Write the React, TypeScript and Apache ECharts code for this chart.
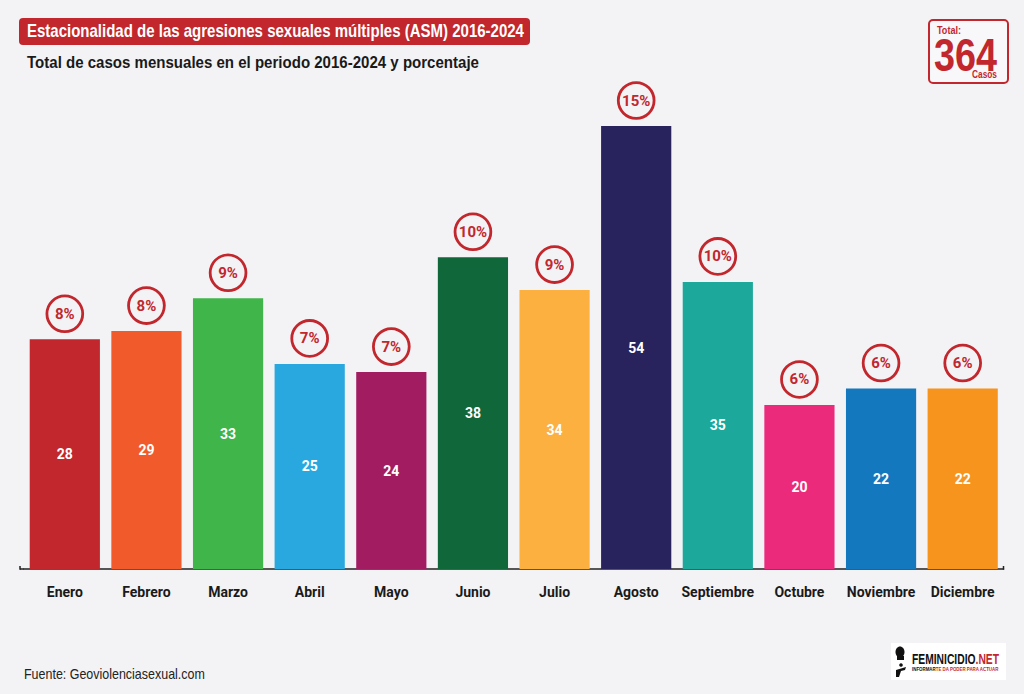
import React, { useEffect, useRef } from "react";
import * as echarts from "echarts";

const months = ["Enero", "Febrero", "Marzo", "Abril", "Mayo", "Junio", "Julio", "Agosto", "Septiembre", "Octubre", "Noviembre", "Diciembre"];
const cases = [28, 29, 33, 25, 24, 38, 34, 54, 35, 20, 22, 22];
const percents = ["8%", "8%", "9%", "7%", "7%", "10%", "9%", "15%", "10%", "6%", "6%", "6%"];
const barColors = ["#c1272d", "#f15a2b", "#3fb54a", "#29a8e0", "#a21c62", "#10683a", "#fbb040", "#28235c", "#1ca89a", "#eb2a7b", "#1478be", "#f7941d"];
const titleText = "Estacionalidad de las agresiones sexuales múltiples (ASM) 2016-2024";
const subtitleText = "Total de casos mensuales en el periodo 2016-2024 y porcentaje";
const totalValue = "364";
const sourceText = "Fuente: Geoviolenciasexual.com";

const SANS = "'Liberation Sans', Arial, sans-serif";
const ROBOTO = "Roboto, 'Liberation Sans', Arial, sans-serif";
const RED = "#c1272d";

function measure(text: string, font: string): number {
  const ctx = document.createElement("canvas").getContext("2d");
  if (!ctx) return text.length * 8;
  ctx.font = font;
  return ctx.measureText(text).width;
}

function fitText(x: number, y: number, text: string, font: string, width: number, fill: string, align = "left", extra: any = {}) {
  const w = measure(text, font);
  return {
    type: "text",
    x,
    y,
    scaleX: width / w,
    style: { text, fill, font, textAlign: align, textVerticalAlign: "middle", ...extra },
  };
}

export default function App() {
  const ref = useRef<HTMLDivElement>(null);
  useEffect(() => {
    if (!ref.current) return;
    const chart = echarts.init(ref.current, undefined, { renderer: "svg" });
    const logoFont = `bold 15px ${SANS}`;
    const logoScale = 87 / measure("FEMINICIDIO.NET", logoFont);
    const tagFont = `bold 6px ${SANS}`;
    const tagScale = 87 / measure("INFORMARTE DA PODER PARA ACTUAR", tagFont);
    chart.setOption({
      animation: false,
      backgroundColor: "#f3f3f5",
      textStyle: { fontFamily: ROBOTO },
      grid: { left: 24, right: 20.5, top: 76.8, bottom: 125, containLabel: false },
      xAxis: {
        type: "category",
        data: months,
        axisLine: { lineStyle: { color: "#222", width: 1.5 } },
        axisTick: { alignWithLabel: true, length: 6, lineStyle: { color: "#222", width: 1.5 } },
        axisLabel: { interval: 0, color: "#1a1a1a", fontWeight: "bold", fontSize: 14, margin: 16, fontFamily: ROBOTO },
      },
      yAxis: { type: "value", min: 0, max: 60, show: false, splitLine: { show: false } },
      series: [
        {
          type: "bar",
          data: cases.map((v, i) => ({ value: v, itemStyle: { color: barColors[i] } })),
          barCategoryGap: "14%",
          label: { show: true, position: "inside", color: "#fff", fontWeight: "bold", fontSize: 14, fontFamily: ROBOTO },
        },
        {
          type: "bar",
          data: cases,
          barGap: "-100%",
          barCategoryGap: "14%",
          itemStyle: { color: "rgba(0,0,0,0)" },
          silent: true,
          label: {
            show: true,
            position: "top",
            distance: 9,
            formatter: (p: any) => percents[p.dataIndex],
            color: RED,
            fontWeight: "bold",
            fontSize: 15,
            fontFamily: ROBOTO,
            width: 33,
            height: 33,
            lineHeight: 33,
            align: "center",
            borderColor: RED,
            borderWidth: 2.8,
            borderRadius: 19,
            backgroundColor: "#f3f3f5",
          },
        },
      ],
      graphic: [
        { type: "rect", shape: { x: 19, y: 18, width: 511, height: 27, r: 4 }, style: { fill: RED } },
        fitText(27, 31.5, titleText, `bold 18px ${SANS}`, 497, "#fff"),
        fitText(27, 62, subtitleText, `bold 17px ${SANS}`, 452, "#1a1a1a"),
        { type: "rect", shape: { x: 929, y: 20, width: 79, height: 63, r: 4 }, style: { fill: "#f8f8fa", stroke: RED, lineWidth: 2 } },
        fitText(937, 30, "Total:", `bold 11px ${SANS}`, 24, RED),
        fitText(965.5, 54, totalValue, `bold 47px ${SANS}`, 63, RED, "center"),
        fitText(997, 75, "Casos", `bold 10px ${SANS}`, 25, RED, "right"),
        { type: "line", shape: { x1: 20, y1: 569, x2: 24, y2: 569 }, style: { stroke: "#222", lineWidth: 1.5 } },
        { type: "line", shape: { x1: 20, y1: 569.7, x2: 20, y2: 566 }, style: { stroke: "#222", lineWidth: 1.5 } },
        { type: "line", shape: { x1: 1003.5, y1: 569.7, x2: 1003.5, y2: 566 }, style: { stroke: "#222", lineWidth: 1.5 } },
        fitText(24, 674, sourceText, `14px ${SANS}`, 181, "#222"),
        { type: "rect", shape: { x: 891, y: 643, width: 115, height: 37 }, style: { fill: "#fff" } },
        { type: "ellipse", shape: { cx: 900, cy: 652, rx: 4.5, ry: 5.5 }, style: { fill: "#111" } },
        { type: "rect", shape: { x: 897, y: 656, width: 7, height: 4 }, style: { fill: "#111" } },
        { type: "circle", shape: { cx: 901, cy: 665, r: 1.8 }, style: { fill: "#111" } },
        { type: "polygon", shape: { points: [[896, 670], [906, 667], [905, 670], [901, 671], [899, 677], [896, 677]] }, style: { fill: "#111" } },
        {
          type: "text",
          x: 912,
          y: 659,
          scaleX: logoScale,
          style: { rich: { a: { fill: "#111", font: logoFont }, b: { fill: RED, font: logoFont } }, text: "{a|FEMINICIDIO}{b|.NET}", textVerticalAlign: "middle" },
        },
        {
          type: "text",
          x: 912,
          y: 669,
          scaleX: tagScale,
          style: { rich: { a: { fill: "#111", font: tagFont }, b: { fill: RED, font: tagFont } }, text: "{a|INFORMAR}{b|TE DA PODER PARA ACTUAR}", textVerticalAlign: "middle" },
        },
      ],
    });
    return () => chart.dispose();
  }, []);
  return <div ref={ref} style={{ position: "fixed", left: 0, top: 0, width: 1024, height: 694 }} />;
}
